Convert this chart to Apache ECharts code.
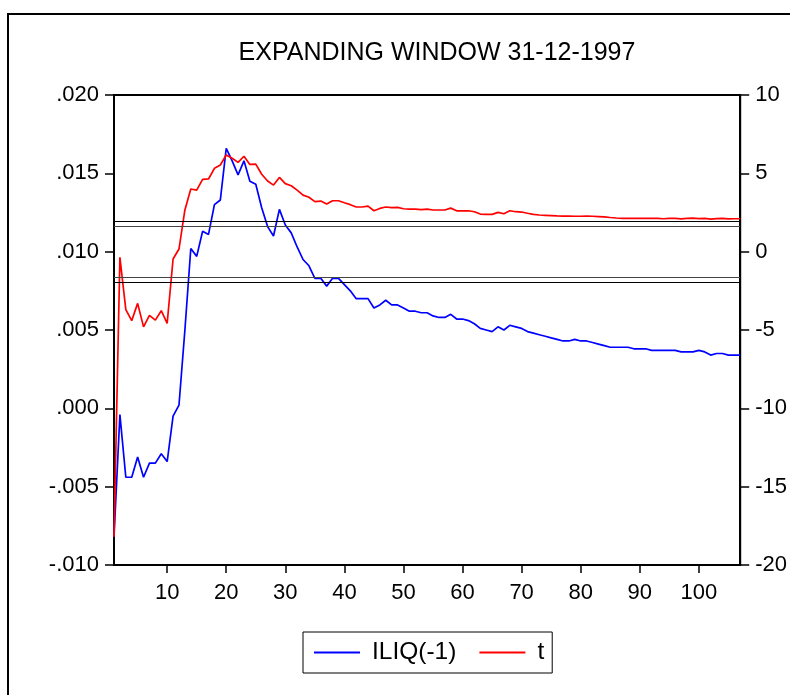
<!DOCTYPE html>
<html><head><meta charset="utf-8">
<script src="https://cdn.jsdelivr.net/npm/echarts@6/dist/echarts.min.js"></script>
<style>html,body{margin:0;padding:0;background:#fff}#c{width:790px;height:695px}</style>
</head><body><div id="c"></div>
<script>
const title = "EXPANDING WINDOW 31-12-1997";
const seriesNames = ["ILIQ(-1)", "t"];
const xTicks = [10,20,30,40,50,60,70,80,90,100];
const criticalValues = [1.96, 1.645, -1.645, -1.96];
const iliq = [
-0.0082,-0.0004,-0.0044,-0.0044,-0.0031,-0.0044,-0.0035,-0.0035,-0.0029,-0.0034,
-0.0005,0.0002,0.0050,0.0102,0.0097,0.0113,0.0111,0.0130,0.0133,0.0166,
0.0158,0.0149,0.0158,0.0145,0.0143,0.0128,0.0116,0.0110,0.0127,0.0117,
0.0112,0.0103,0.0095,0.0091,0.0083,0.0083,0.0078,0.0083,0.0083,0.0079,
0.0075,0.0070,0.0070,0.0070,0.0064,0.0066,0.0069,0.0066,0.0066,0.0064,
0.0062,0.0062,0.0061,0.0061,0.0059,0.0058,0.0058,0.0060,0.0057,0.0057,
0.0056,0.0054,0.0051,0.0050,0.0049,0.0052,0.0050,0.0053,0.0052,0.0051,
0.0049,0.0048,0.0047,0.0046,0.0045,0.0044,0.0043,0.0043,0.0044,0.0043,
0.0043,0.0042,0.0041,0.0040,0.0039,0.0039,0.0039,0.0039,0.0038,0.0038,
0.0038,0.0037,0.0037,0.0037,0.0037,0.0037,0.0036,0.0036,0.0036,0.0037,
0.0036,0.0034,0.0035,0.0035,0.0034,0.0034,0.0034
];
const tstat = [
-18.2,-0.36,-3.7,-4.4,-3.3,-4.8,-4.07,-4.37,-3.77,-4.58,
-0.47,0.17,2.66,4.0,3.93,4.62,4.64,5.32,5.53,6.17,
5.96,5.7,6.09,5.57,5.59,4.94,4.51,4.25,4.74,4.34,
4.21,3.93,3.61,3.47,3.19,3.23,3.04,3.25,3.25,3.12,
3.0,2.85,2.85,2.91,2.61,2.76,2.85,2.81,2.83,2.74,
2.72,2.72,2.68,2.72,2.66,2.66,2.66,2.78,2.61,2.61,
2.61,2.55,2.40,2.38,2.38,2.51,2.42,2.61,2.55,2.53,
2.45,2.38,2.34,2.32,2.30,2.28,2.27,2.27,2.26,2.26,
2.27,2.26,2.24,2.22,2.18,2.15,2.13,2.13,2.13,2.13,
2.12,2.12,2.12,2.10,2.12,2.12,2.09,2.12,2.14,2.11,
2.13,2.08,2.11,2.13,2.09,2.10,2.10
];
const FONT = "'Liberation Sans', Arial, sans-serif";
const chart = echarts.init(document.getElementById('c'), null, {renderer:'canvas'});
const fmtL = v => { const s = v.toFixed(3); return s.replace(/^(-?)0\./, '$1.'); };
chart.setOption({
  animation:false,
  backgroundColor:'#fff',
  title:{text:title, left:432, textAlign:'center', top:36,
    textStyle:{fontFamily:FONT, fontWeight:'normal', fontSize:25, color:'#000'}},
  graphic:[{type:'rect', shape:{x:8,y:14,width:800,height:700}, style:{fill:'none', stroke:'#000', lineWidth:2}, silent:true}],
  legend:{data:seriesNames, left:303, top:632, orient:'horizontal',
    borderColor:'#000', borderWidth:1, borderRadius:0, padding:[8,8,8,11], itemGap:23,
    itemWidth:46, itemHeight:2, icon:'rect',
    textStyle:{fontFamily:FONT, fontSize:24.5, color:'#000', padding:[0,0,0,7]}},
  grid:{left:114, right:49, top:95, bottom:130, show:true, borderColor:'#000', borderWidth:2},
  xAxis:{type:'value', min:1, max:107,
    axisLine:{show:true, onZero:false, lineStyle:{color:'#000', width:2}},
    axisTick:{show:true, customValues:xTicks, length:8, lineStyle:{color:'#000', width:1.5}},
    axisLabel:{customValues:xTicks, fontFamily:FONT, fontSize:22, color:'#000', margin:17},
    splitLine:{show:false}},
  yAxis:[
    {type:'value', min:-0.010, max:0.020, interval:0.005, position:'left',
     axisLine:{show:true, onZero:false, lineStyle:{color:'#000', width:2}},
     axisTick:{show:true, inside:false, length:9, lineStyle:{color:'#000', width:1.5}},
     axisLabel:{formatter:fmtL, fontFamily:FONT, fontSize:22, color:'#000', margin:15},
     splitLine:{show:false}},
    {type:'value', min:-20, max:10, interval:5, position:'right',
     axisLine:{show:true, onZero:false, lineStyle:{color:'#000', width:2}},
     axisTick:{show:true, inside:false, length:9, lineStyle:{color:'#000', width:1.5}},
     axisLabel:{fontFamily:FONT, fontSize:22, color:'#000', margin:15},
     splitLine:{show:false}}
  ],
  series:[
    {name:seriesNames[0], type:'line', yAxisIndex:0, symbol:'none', showSymbol:false,
     lineStyle:{color:'#0000ff', width:1.7}, itemStyle:{color:'#0000ff'},
     data:iliq.map((v,i)=>[i+1, v])},
    {name:seriesNames[1], type:'line', yAxisIndex:1, symbol:'none', showSymbol:false,
     lineStyle:{color:'#ff0000', width:1.7}, itemStyle:{color:'#ff0000'},
     data:tstat.map((v,i)=>[i+1, v]),
     markLine:{silent:true, symbol:'none', label:{show:false},
       data:criticalValues.map(c=>({yAxis:c, lineStyle:{color: Math.abs(c)>1.9?'#000':'#444', width:1.2, type:'solid'}}))}}
  ]
});
</script></body></html>
